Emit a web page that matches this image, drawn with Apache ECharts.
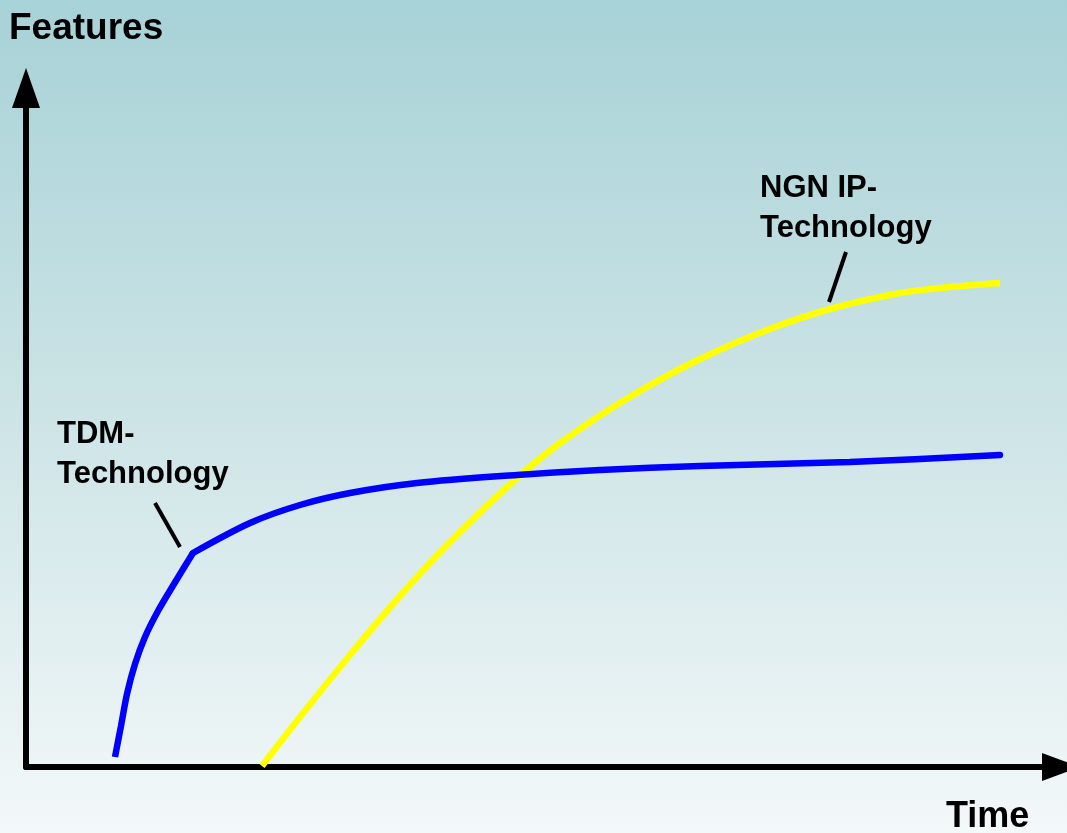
<!DOCTYPE html>
<html>
<head>
<meta charset="utf-8">
<title>TDM vs NGN IP</title>
<script src="https://cdn.jsdelivr.net/npm/echarts@6/dist/echarts.min.js"></script>
<style>
  html, body { margin: 0; padding: 0; }
  #chart { width: 1067px; height: 833px; }
</style>
</head>
<body>
<div id="chart"></div>
<script>
// time / features in arbitrary units
const tdmRise = [[89, 10], [95, 41], [101, 73], [109, 103], [119, 130], [132, 156], [148, 183], [167, 214]]
const tdmPlateau = [[167, 214], [224, 244], [274, 262], [324, 274], [391, 284], [491, 292], [574, 297], [674, 301], [824, 305], [974, 312]]
const ngnIp = [[236, 1], [274, 50], [324, 112], [374, 171], [424, 225], [491, 289], [541, 329], [607, 372], [674, 408], [741, 437], [804, 458], [874, 474], [924, 480], [974, 484]]
const tdmLeader = [[129, 264], [154, 220]]
const ngnLeader = [[820, 515], [803, 465]]

const chart = echarts.init(document.getElementById('chart'))
const font = 'Liberation Sans, Arial, sans-serif'

const leader = (pts) => ({
  silent: true,
  symbol: ['none', 'none'],
  label: { show: false },
  lineStyle: { color: '#000', width: 4, type: 'solid' },
  data: [[{ coord: pts[0] }, { coord: pts[1] }]]
})

const curve = (color, cap) => ({
  type: 'line', smooth: 0.3,
  showSymbol: false, lineStyle: { color, width: 6.5, cap: cap || 'butt' }
})

const option = {
  backgroundColor: {
    type: 'linear', x: 0, y: 0, x2: 0, y2: 1,
    colorStops: [
      { offset: 0, color: '#a7d2d7' },
      { offset: 0.5, color: '#cde4e6' },
      { offset: 1, color: '#f3f8f9' }
    ]
  },
  animation: false,
  title: [
    { text: 'Features', left: 9, top: 11, padding: 0,
      textStyle: { fontFamily: font, fontSize: 37, fontWeight: 'bold', color: '#000', lineHeight: 36 } },
    { text: 'Time', left: 946, top: 799, padding: 0,
      textStyle: { fontFamily: font, fontSize: 36, fontWeight: 'bold', color: '#000', lineHeight: 36 } }
  ],
  graphic: [
    { type: 'text', left: 57, top: 414,
      style: { text: 'TDM-\nTechnology', font: 'bold 31px ' + font, lineHeight: 40, fill: '#000' } },
    { type: 'text', left: 760, top: 168,
      style: { text: 'NGN IP-\nTechnology', font: 'bold 31px ' + font, lineHeight: 40, fill: '#000' } }
  ],
  grid: { left: 26, right: 25, top: 108, bottom: 66 },
  xAxis: {
    type: 'value', min: 0, max: 1016,
    axisLine: {
      show: true, onZero: false,
      symbol: ['none', 'triangle'], symbolSize: [28, 38], symbolOffset: [0, 19],
      lineStyle: { color: '#000', width: 6 }
    },
    axisTick: { show: false }, axisLabel: { show: false }, splitLine: { show: false }
  },
  yAxis: {
    type: 'value', min: 0, max: 659,
    axisLine: {
      show: true, onZero: false,
      symbol: ['none', 'triangle'], symbolSize: [28, 40], symbolOffset: [0, 20],
      lineStyle: { color: '#000', width: 6 }
    },
    axisTick: { show: false }, axisLabel: { show: false }, splitLine: { show: false }
  },
  series: [
    Object.assign(curve('#ffff00'), { name: 'NGN IP-Technology', data: ngnIp, markLine: leader(ngnLeader) }),
    Object.assign(curve('#0000ff'), { name: 'TDM-Technology', data: tdmRise, markLine: leader(tdmLeader) }),
    // separate segment so the kink after the steep rise stays sharp
    Object.assign(curve('#0000ff', 'round'), { name: 'TDM-Technology', data: tdmPlateau })
  ]
}

chart.setOption(option)
</script>
</body>
</html>
